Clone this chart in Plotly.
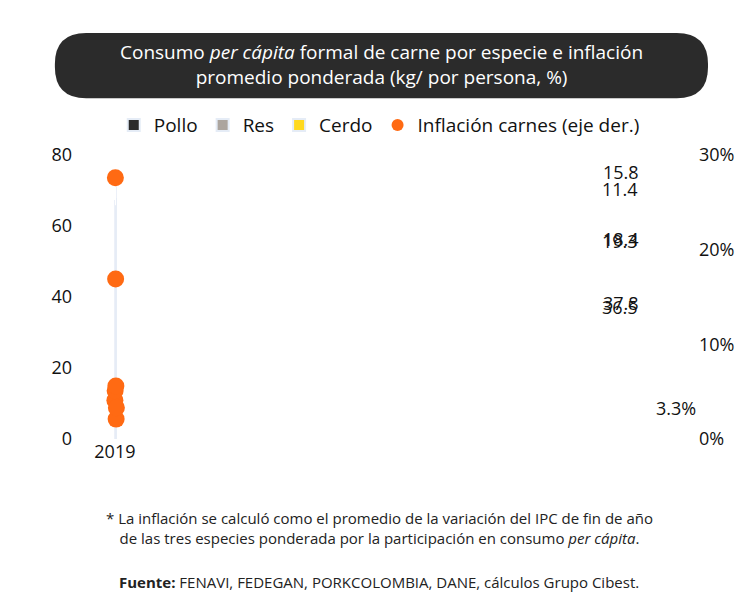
import plotly.graph_objects as go

years = ["2019","2020","2021","2022","2023","2024","2025"]
pollo = [36.5, 33.8, 34.9, 36.6, 35.8, 35.5, 37.8]
res = [19.3, 17.7, 17.5, 16.6, 16.3, 17.7, 18.4]
cerdo = [11.4, 11.0, 12.1, 12.7, 13.5, 14.7, 15.8]
inflacion = [4.1, 5.1, 27.6, 16.9, 5.6, 2.1, 3.3]

F = "Open Sans"
fig = go.Figure()
fig.add_bar(x=years, y=pollo, name="Pollo", marker_color="#2b2b2b", width=0.5)
fig.add_bar(x=years, y=res, name="Res", marker_color="#aca59e", width=0.5)
fig.add_bar(x=years, y=cerdo, name="Cerdo", marker_color="#ffd91f", width=0.5)
fig.add_scatter(x=years, y=inflacion, name="Inflación carnes (eje der.)", mode="markers",
                marker=dict(color="#ff6a13", size=17), yaxis="y2")

ann = []
for i in (0, 6):
    t1 = pollo[i]; t2 = pollo[i] + res[i]; t3 = t2 + cerdo[i]
    for val, y, ys in ((pollo[i], t1, 2), (res[i], t2, 0), (cerdo[i], t3, 11)):
        ann.append(dict(x=years[i], y=y, yshift=ys, yanchor="middle", text=f"{val:.1f}", showarrow=False,
                        font=dict(size=18, color="#111", family=F)))
ann.append(dict(x=years[6], y=inflacion[6], yref="y2", xshift=55, yanchor="middle", text=f"{inflacion[6]:.1f}%",
                showarrow=False, font=dict(size=18, color="#111", family=F)))
ann.append(dict(xref="paper", yref="paper", x=0.4936, y=1.317, yanchor="middle",
                text="Consumo <i>per cápita</i> formal de carne por especie e inflación<br>promedio ponderada (kg/ por persona, %)",
                showarrow=False, font=dict(size=19, color="white", family=F), align="center"))
ann.append(dict(xref="paper", yref="paper", x=0.49, y=-0.313, yanchor="middle",
                text="* La inflación se calculó como el promedio de la variación del IPC de fin de año<br>de las tres especies ponderada por la participación en consumo <i>per cápita</i>.",
                showarrow=False, font=dict(size=15, color="#222", family=F), align="center"))
ann.append(dict(xref="paper", yref="paper", x=0.49, y=-0.503, yanchor="middle",
                text="<b>Fuente:</b> FENAVI, FEDEGAN, PORKCOLOMBIA, DANE, cálculos Grupo Cibest.",
                showarrow=False, font=dict(size=15, color="#222", family=F), align="center"))

x0, x1, y0, y1 = -0.029, 1.016, 1.20, 1.43
rx, ry = 0.05, 0.11
path = (f"M {x0+rx},{y1} L {x1-rx},{y1} Q {x1},{y1} {x1},{y1-ry} L {x1},{y0+ry} Q {x1},{y0} {x1-rx},{y0} "
        f"L {x0+rx},{y0} Q {x0},{y0} {x0},{y0+ry} L {x0},{y1-ry} Q {x0},{y1} {x0+rx},{y1} Z")

fig.update_layout(
    width=755, height=592, barmode="stack",
    margin=dict(l=65, r=65, t=147, b=161),
    paper_bgcolor="white", plot_bgcolor="white",
    font=dict(family=F, color="#111"),
    shapes=[dict(type="path", xref="paper", yref="paper", path=path, fillcolor="#2b2b2b",
                 line=dict(width=0), layer="below")],
    annotations=ann,
    legend=dict(orientation="h", x=0.49, xanchor="center", y=1.105, yanchor="middle",
                bgcolor="rgba(0,0,0,0)", font=dict(size=19, family=F), itemsizing="constant",
                traceorder="normal"),
    xaxis=dict(type="category", tickfont=dict(size=18, family=F), showline=False, ticks=""),
    yaxis=dict(range=[0, 80], dtick=20, showgrid=False, zeroline=False, tickfont=dict(size=18, family=F)),
    yaxis2=dict(range=[0, 30], dtick=10, ticksuffix="%", overlaying="y", side="right",
                showgrid=False, zeroline=False, tickfont=dict(size=18, family=F)),
)
fig.write_html("out.html")
